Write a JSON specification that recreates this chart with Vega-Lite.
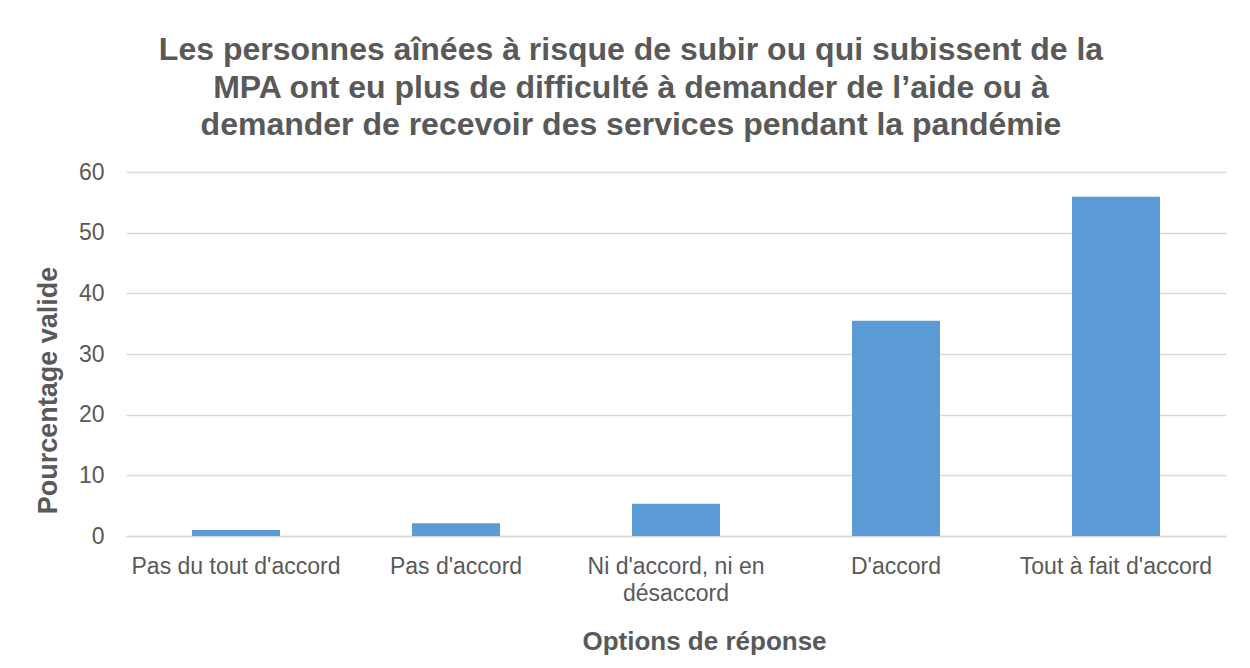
{
  "$schema": "https://vega.github.io/schema/vega-lite/v6.json",
  "autosize": {"type": "none"},
  "width": 1100,
  "height": 364,
  "padding": {"left": 126, "top": 172, "right": 24, "bottom": 132},
  "background": "white",
  "title": {
    "text": ["Les personnes aînées à risque de subir ou qui subissent de la", "MPA ont eu plus de difficulté à demander de l’aide ou à", "demander de recevoir des services pendant la pandémie"],
    "font": "Liberation Sans",
    "fontSize": 32,
    "fontWeight": "bold",
    "color": "#595959",
    "lineHeight": 37.5,
    "anchor": "middle",
    "frame": "group",
    "dx": -45,
    "offset": 19
  },
  "data": {
    "values": [
      {"option": "Pas du tout d'accord", "pct": 1.0},
      {"option": "Pas d'accord", "pct": 2.1},
      {"option": "Ni d'accord, ni en désaccord", "pct": 5.3},
      {"option": "D'accord", "pct": 35.5},
      {"option": "Tout à fait d'accord", "pct": 55.9}
    ]
  },
  "mark": {"type": "bar", "color": "#5b9bd5"},
  "encoding": {
    "x": {
      "field": "option",
      "type": "nominal",
      "sort": null,
      "scale": {"paddingInner": 0.6, "paddingOuter": 0.3},
      "axis": {
        "title": "Options de réponse",
        "titleFont": "Liberation Sans",
        "titleFontSize": 26,
        "titleFontWeight": "bold",
        "titleColor": "#595959",
        "titleX": 578,
        "titleY": 113,
        "titleBaseline": "alphabetic",
        "labelAngle": 0,
        "labelFont": "Liberation Sans",
        "labelFontSize": 23,
        "labelColor": "#595959",
        "labelPadding": 19,
        "labelLineHeight": 27,
        "labelLimit": 0,
        "labelExpr": "datum.label == 'Ni d\\'accord, ni en désaccord' ? ['Ni d\\'accord, ni en', 'désaccord'] : datum.label",
        "ticks": false,
        "domainColor": "#d9d9d9",
        "domainWidth": 1.5
      }
    },
    "y": {
      "field": "pct",
      "type": "quantitative",
      "scale": {"domain": [0, 60]},
      "axis": {
        "title": "Pourcentage valide",
        "titleFont": "Liberation Sans",
        "titleFontSize": 27,
        "titleFontWeight": "bold",
        "titleColor": "#595959",
        "titleAngle": -90,
        "titleX": -78,
        "titleY": 218,
        "titleAlign": "center",
        "titleBaseline": "middle",
        "values": [0, 10, 20, 30, 40, 50, 60],
        "labelFont": "Liberation Sans",
        "labelFontSize": 23,
        "labelColor": "#595959",
        "labelPadding": 22,
        "ticks": false,
        "domain": false,
        "gridColor": "#d9d9d9",
        "gridWidth": 1.5
      }
    }
  },
  "config": {"view": {"stroke": null}}
}
